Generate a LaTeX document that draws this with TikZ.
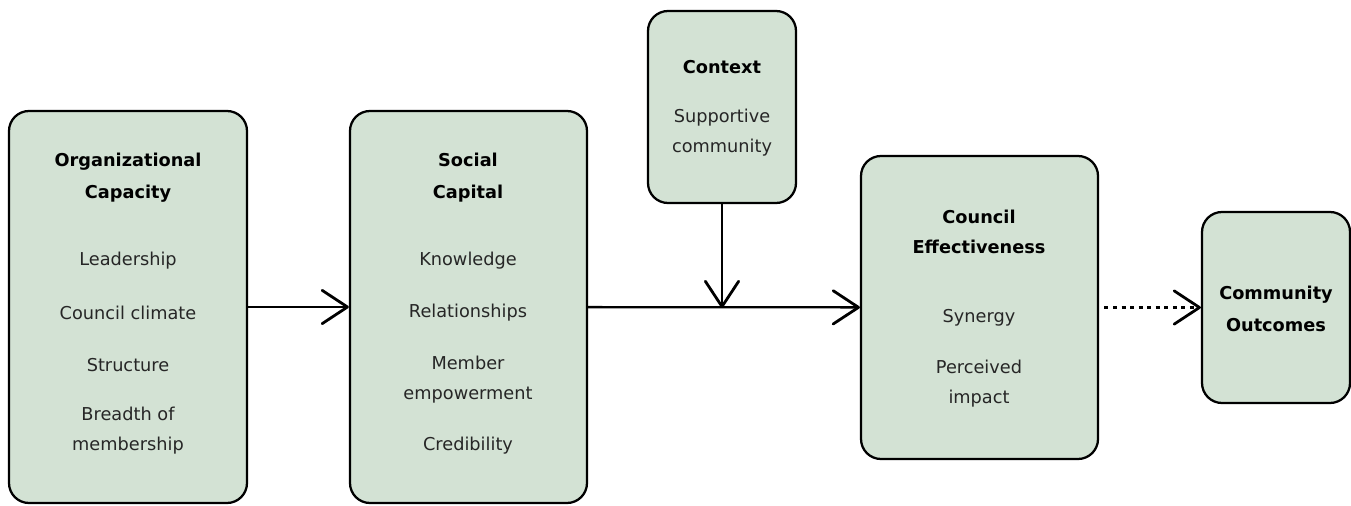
\documentclass[tikz,border=0pt]{standalone}
\usepackage{fontspec}
\setmainfont{DejaVu Sans}
\usetikzlibrary{arrows.meta,fit}
\definecolor{boxfill}{HTML}{D3E2D4}
\definecolor{itemgray}{HTML}{262626}

\begin{document}
\begin{tikzpicture}[x=0.75pt,y=-0.75pt,
      every node/.style={font=\fontsize{13.3}{22.5}\selectfont,align=center},
      box/.style={draw,fill=boxfill,rounded corners=15pt,line width=1.7pt,inner sep=0pt},
      title/.style={font=\fontsize{13.3}{24}\selectfont\bfseries},
      item/.style={text=itemgray},
      link/.style={line width=1.7pt,-{Straight Barb[length=19pt,width=25pt,line width=2.1pt,round]}},
      maybe/.style={link,line width=2.4pt,dash pattern=on 3pt off 3.4pt}]
    \useasboundingbox (0,0) rectangle (1351,506);

    % boxes
    \node[box,fit={(9,111) (247,503)}] (org) {};
    \node[box,fit={(350,111) (587,503)}] (social) {};
    \node[box,fit={(648,11) (796,203)}] (context) {};
    \node[box,fit={(861,156) (1098,459)}] (council) {};
    \node[box,fit={(1202,212) (1350,403)}] (outcomes) {};

    % organizational capacity
    \node[title] (orgtitle) at (128,178) {Organizational\\Capacity};
    \node[item] (lead) at (128,261) {Leadership};
    \node[item] (climate) at (128,313) {Council climate};
    \node[item] (struct) at (128,365) {Structure};
    \node[item] (breadth) at (128,431) {Breadth of\\membership};

    % social capital
    \node[title] (soctitle) at (468,178) {Social\\Capital};
    \node[item] (know) at (468,261) {Knowledge};
    \node[item] (rel) at (468,313) {Relationships};
    \node[item] (empow) at (468,380) {Member\\empowerment};
    \node[item] (cred) at (468,446) {Credibility};

    % context
    \node[title] (ctxtitle) at (722,67) {Context};
    \node[item] (support) at (722,133) {Supportive\\community};

    % council effectiveness
    \node[title,font=\fontsize{13.3}{22.5}\selectfont\bfseries] (effTitle) at (979,232) {Council\\Effectiveness};
    \node[item] (synergy) at (979,318) {Synergy};
    \node[item] (impact) at (979,384) {Perceived\\impact};

    % community outcomes
    \node[title] (outtitle) at (1276,309) {Community\\Outcomes};

    \coordinate (join) at (722,308);

    \draw[link] (org) -- (social);
    \draw[link] (social) -- (council);
    \draw[link] (context) -- (join);
    \draw[maybe,shorten <=4pt] (council) -- (outcomes);
\end{tikzpicture}
\end{document}
